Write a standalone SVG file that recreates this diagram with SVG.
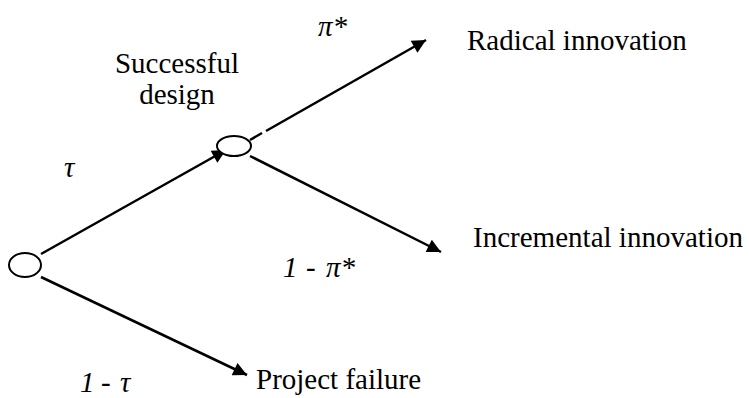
<svg xmlns="http://www.w3.org/2000/svg" width="749" height="398" viewBox="0 0 749 398">
<style>
.n{fill:#fff;stroke:#000;stroke-width:2}
.c{stroke:#000;stroke-width:2.5;fill:none}
</style>
<defs>
<marker id="ah" viewBox="0 0 10 10" refX="10" refY="5" markerWidth="7" markerHeight="5.5" markerUnits="strokeWidth" orient="auto">
<path d="M0,0 L10,5 L0,10 Z" fill="#000"/>
</marker>
</defs>
<g id="connectors">
<line class="c" x1="41" y1="254" x2="226" y2="150" marker-end="url(#ah)"/>
<line class="c" x1="41" y1="277" x2="247" y2="375" marker-end="url(#ah)"/>
<line class="c" x1="250" y1="140" x2="262" y2="133"/>
<line class="c" x1="266" y1="131" x2="426" y2="40" marker-end="url(#ah)"/>
<line class="c" x1="250" y1="156" x2="441" y2="252" marker-end="url(#ah)"/>
</g>
<g font-family="Liberation Serif, Times New Roman, serif" font-size="29" fill="#000">
<g id="start">
<ellipse class="n" cx="25" cy="265" rx="16" ry="12"/>
</g>
<g id="design">
<ellipse class="n" cx="234" cy="146" rx="17" ry="10"/>
<text x="177" y="73" text-anchor="middle">Successful</text>
<text x="177" y="104" text-anchor="middle">design</text>
</g>
<g id="radical">
<text x="467" y="50">Radical innovation</text>
</g>
<g id="incremental">
<text x="473" y="247" textLength="270" lengthAdjust="spacingAndGlyphs">Incremental innovation</text>
</g>
<g id="failure">
<text x="256" y="389">Project failure</text>
</g>
<g id="labels" font-style="italic">
<text x="64" y="177">τ</text>
<text x="318" y="36">π*</text>
<text y="277"><tspan x="283">1</tspan><tspan x="306">-</tspan><tspan x="326">π*</tspan></text>
<text y="392"><tspan x="80">1</tspan><tspan x="101">-</tspan><tspan x="120">τ</tspan></text>
</g>
</g>
</svg>
